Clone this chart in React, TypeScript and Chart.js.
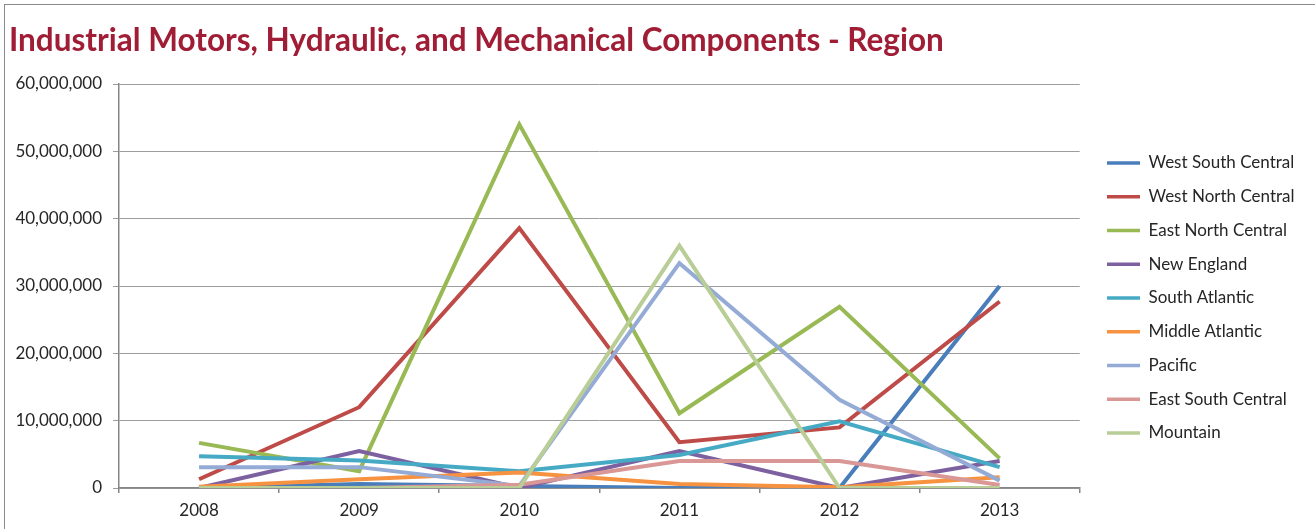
import React, { useEffect, useRef } from "react";
import { Chart, registerables } from "chart.js";

Chart.register(...registerables);

const years = ["2008", "2009", "2010", "2011", "2012", "2013"];

const westSouthCentral = [0, 600000, 300000, 0, 0, 30000000];
const westNorthCentral = [1300000, 12000000, 38600000, 6800000, 9000000, 27700000];
const eastNorthCentral = [6700000, 2500000, 54000000, 11100000, 26900000, 4400000];
const newEngland = [0, 5500000, 0, 5500000, 0, 4000000];
const southAtlantic = [4700000, 4100000, 2500000, 4900000, 9900000, 3100000];
const middleAtlantic = [200000, 1300000, 2300000, 600000, 100000, 1600000];
const pacific = [3100000, 3100000, 300000, 33400000, 13100000, 1100000];
const eastSouthCentral = [0, 0, 500000, 4000000, 4000000, 450000];
const mountain = [0, 0, 0, 36000000, 0, 0];

const seriesNames = [
  "West South Central",
  "West North Central",
  "East North Central",
  "New England",
  "South Atlantic",
  "Middle Atlantic",
  "Pacific",
  "East South Central",
  "Mountain",
];
const seriesValues = [
  westSouthCentral,
  westNorthCentral,
  eastNorthCentral,
  newEngland,
  southAtlantic,
  middleAtlantic,
  pacific,
  eastSouthCentral,
  mountain,
];
const seriesColors = [
  "#4A7EBB",
  "#BE4B48",
  "#98B954",
  "#7D60A0",
  "#46AAC5",
  "#F69240",
  "#94ABD6",
  "#D99795",
  "#B9CD96",
];

const yTicks = [0, 10000000, 20000000, 30000000, 40000000, 50000000, 60000000];

const FONT = "Lato, 'Open Sans', sans-serif";

export default function App() {
  const ref = useRef<HTMLCanvasElement | null>(null);

  useEffect(() => {
    if (!ref.current) return;
    const legendPlacer = {
      id: "legendPlacer",
      afterLayout(chart: any) {
        const l = chart.legend;
        if (!l) return;
        const w = l.width;
        const h = l.height;
        l.left = 1090.25;
        l.right = l.left + w;
        l.top = 137.75;
        l.bottom = l.top + h;
      },
    };
    const chart = new Chart(ref.current, {
      type: "line",
      data: {
        labels: years,
        datasets: seriesNames.map((name, i) => ({
          label: name,
          data: seriesValues[i],
          borderColor: seriesColors[i],
          backgroundColor: seriesColors[i],
          borderWidth: 4,
          pointRadius: 0,
          pointHoverRadius: 0,
          tension: 0,
          fill: false,
          order: -i,
        })),
      },
      options: {
        responsive: false,
        animation: false,
        maintainAspectRatio: false,
        layout: { padding: { left: 9, right: 21, top: 0, bottom: 0 } },
        plugins: {
          title: {
            display: true,
            text: "Industrial Motors, Hydraulic, and Mechanical Components - Region",
            align: "start",
            color: "#A01D36",
            font: { family: FONT, size: 31.5, weight: "bold" },
            padding: { top: 21.6, bottom: 24.6 },
          },
          legend: {
            position: "right",
            align: "start",
            labels: {
              boxWidth: 33,
              boxHeight: 3.5,
              padding: 16.75,
              color: "#262626",
              font: { family: FONT, size: 17 },
              sort: (a: any, b: any) => a.datasetIndex - b.datasetIndex,
              generateLabels: (chart: any) =>
                Chart.defaults.plugins.legend.labels
                  .generateLabels(chart)
                  .map((it: any) => ({ ...it, lineWidth: 0 })),
            },
          },
          tooltip: { enabled: false },
        },
        scales: {
          x: {
            offset: true,
            grid: {
              offset: true,
              drawOnChartArea: false,
              drawTicks: true,
              tickLength: 5,
              color: "#868686",
              lineWidth: 1.5,
            },
            border: { display: true, color: "#868686", width: 1.5 },
            ticks: {
              color: "#262626",
              font: { family: FONT, size: 17 },
              padding: 7,
              maxRotation: 0,
            },
            afterFit: (s: any) => {
              s.height = 41;
            },
          },
          y: {
            min: 0,
            max: 60000000,
            afterBuildTicks: (s: any) => {
              s.ticks = yTicks.map((v) => ({ value: v }));
            },
            grid: {
              color: "#9d9d9d",
              lineWidth: 1,
              drawTicks: true,
              tickLength: 6,
            },
            border: { display: true, color: "#868686", width: 1.5 },
            ticks: {
              color: "#262626",
              font: { family: FONT, size: 17 },
              padding: 11,
              callback: (v: any) => Number(v).toLocaleString("en-US"),
            },
            afterFit: (s: any) => {
              s.width = 110;
            },
          },
        },
      },
      plugins: [legendPlacer],
    });
    return () => chart.destroy();
  }, []);

  return (
    <div style={{ position: "absolute", left: 0, top: 0, width: 1315, height: 529, background: "#fff", overflow: "hidden" }}>
      <div
        style={{
          position: "absolute",
          left: 3.5,
          top: 3.5,
          width: 1400,
          height: 600,
          borderTop: "1.5px solid #8a8a8a",
          borderLeft: "1.5px solid #8a8a8a",
        }}
      />
      <canvas ref={ref} width={1315} height={529} style={{ position: "absolute", left: 0, top: 0 }} />
    </div>
  );
}
